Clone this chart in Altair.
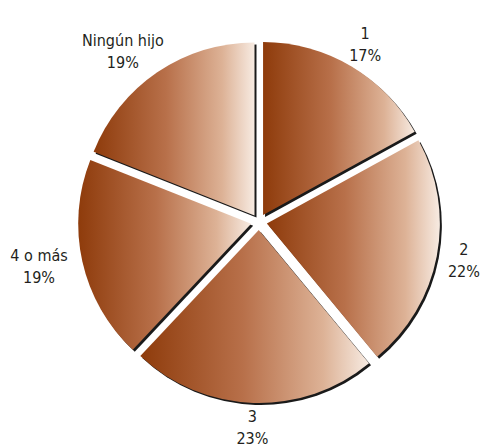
import altair as alt
import pandas as pd

categories = ["1", "2", "3", "4 o más", "Ningún hijo"]
values = [17, 22, 23, 19, 19]
order = [0, 1, 2, 3, 4]

df = pd.DataFrame({"cat": categories, "value": values, "ord": order})

CX, CY, R, EXPLODE = 259, 222, 173, 8
LABEL_RY, LABEL_RX0, CHAR_W, LINE_H = 206, 196, 4.2, 22
FONT = "'Liberation Sans Narrow', 'DejaVu Sans Condensed', 'Liberation Sans', sans-serif"

grad = alt.Gradient(
    gradient="linear",
    stops=[
        alt.GradientStop(color="#8E3B0B", offset=0),
        alt.GradientStop(color="#B8704A", offset=0.45),
        alt.GradientStop(color="#DDB296", offset=0.8),
        alt.GradientStop(color="#F7EBE2", offset=1),
    ],
    x1=0, x2=1, y1=0, y2=0,
)

base = alt.Chart(df).transform_joinaggregate(
    total="sum(value)"
).transform_window(
    cum="sum(value)", sort=[alt.SortField("ord")], frame=[None, 0]
).transform_calculate(
    start="(datum.cum - datum.value) / datum.total * 2 * PI",
    end="datum.cum / datum.total * 2 * PI",
    pct="datum.value + '%'",
).transform_calculate(
    mid="(datum.start + datum.end) / 2",
    maxlen="max(length(datum.cat), length(datum.pct))",
).transform_calculate(
    ex=f"{CX} + {EXPLODE} * sin(datum.mid)",
    ey=f"{CY} - {EXPLODE} * cos(datum.mid)",
    sx=f"{CX + 2} + {EXPLODE} * sin(datum.mid)",
    sy=f"{CY + 2} - {EXPLODE} * cos(datum.mid)",
    lx=f"{CX} + ({LABEL_RX0} + {CHAR_W} * datum.maxlen) * sin(datum.mid)",
    ly=f"{CY} - {LABEL_RY} * cos(datum.mid) - {LINE_H / 2}",
    label="[datum.cat, datum.pct]",
)

shadow = base.mark_arc(outerRadius=R, color="#1a1a1a").encode(
    x=alt.X("sx:Q", scale=None, axis=None),
    y=alt.Y("sy:Q", scale=None, axis=None),
    theta=alt.Theta("start:Q", scale=None),
    theta2="end:Q",
)

slices = base.mark_arc(outerRadius=R, color=grad).encode(
    x=alt.X("ex:Q", scale=None, axis=None),
    y=alt.Y("ey:Q", scale=None, axis=None),
    theta=alt.Theta("start:Q", scale=None),
    theta2="end:Q",
)

labels = base.mark_text(
    font=FONT, fontSize=16, color="#231f20",
    lineHeight=LINE_H, align="center", baseline="middle",
).encode(
    x=alt.X("lx:Q", scale=None, axis=None),
    y=alt.Y("ly:Q", scale=None, axis=None),
    text=alt.Text("label:N"),
)

chart = alt.layer(shadow, slices, labels).properties(
    width=485, height=448,
    autosize=alt.AutoSizeParams(type="none"),
    padding=0,
).configure_view(stroke=None)

chart.save("out.html", embed_options={"renderer": "svg", "actions": False})
